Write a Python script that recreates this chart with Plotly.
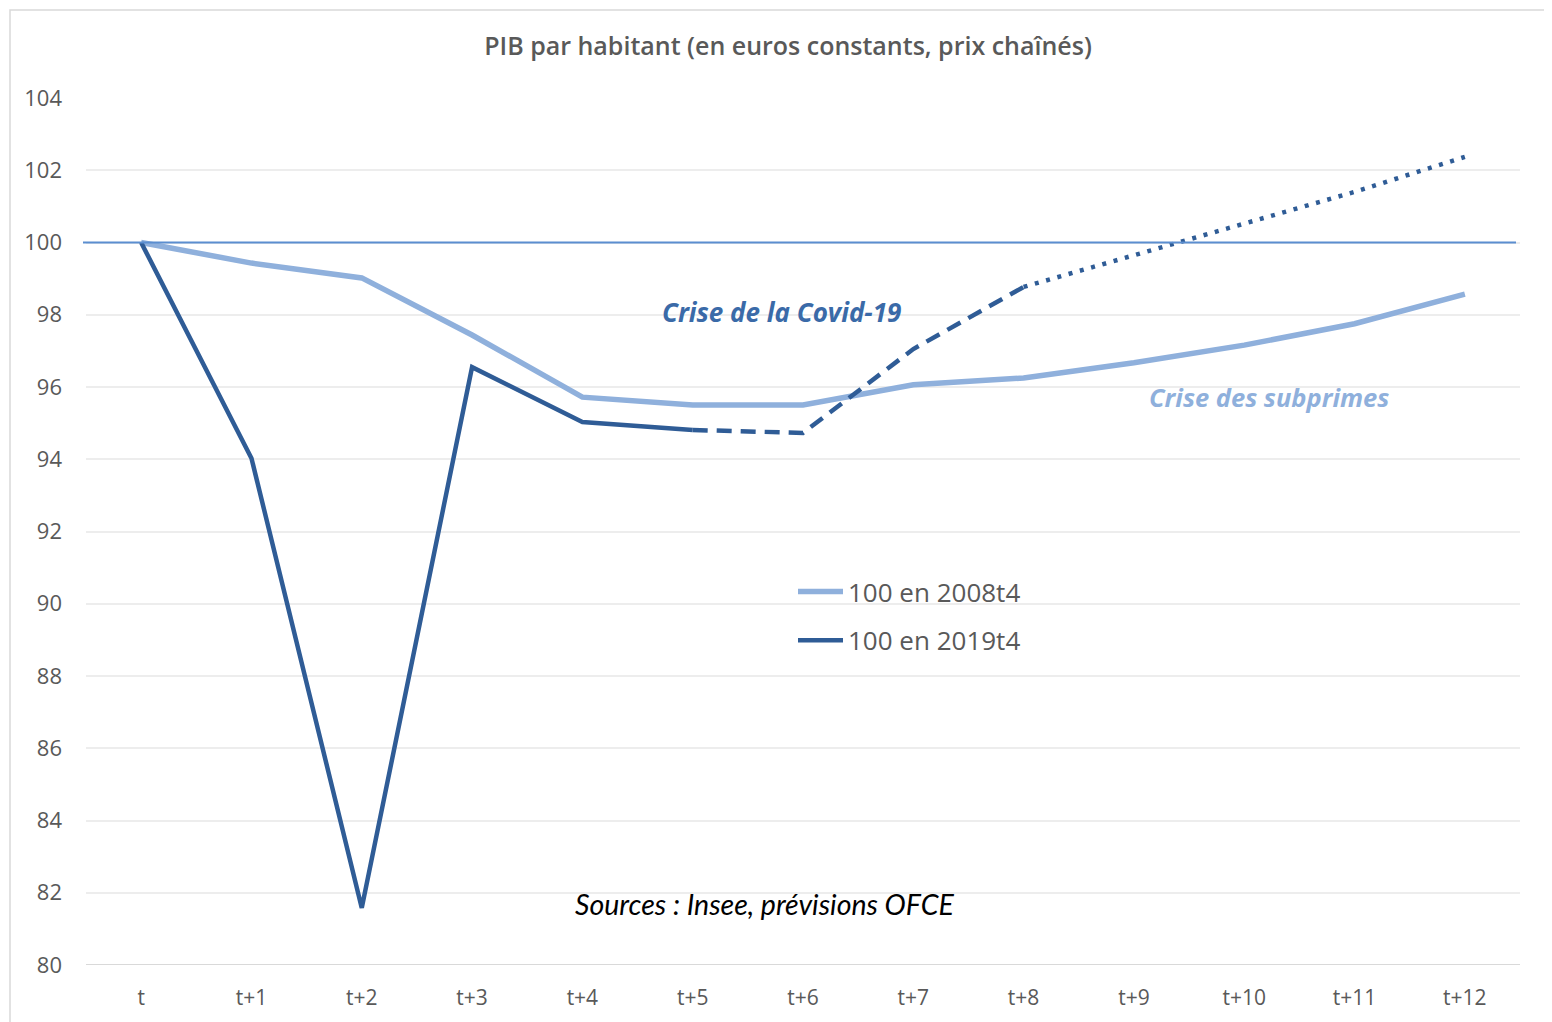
import plotly.graph_objects as go

categories = ["t", "t+1", "t+2", "t+3", "t+4", "t+5", "t+6", "t+7", "t+8", "t+9", "t+10", "t+11", "t+12"]
subprimes = [100, 99.43, 99.02, 97.44, 95.72, 95.50, 95.50, 96.06, 96.25, 96.67, 97.16, 97.75, 98.57]
covid_obs = [100, 94.03, 81.58, 96.55, 95.03, 94.81]          # t .. t+5
covid_short = [94.81, 94.73, 97.05, 98.77]                       # t+5 .. t+8
covid_long = [98.77, 99.65, 100.51, 101.40, 102.37]              # t+8 .. t+12
ref_level = 100

LIGHT = "#8FB0DC"
DARK = "#2F5C96"
GREY = "#595959"
FONT = "Open Sans"

# page offset (body margin of the html page)
OFF = 8
W, H = 1552, 1022
L, T, R, B = 86, 98, 1520, 965   # plot area in page pixels

def px_x(p): return (p - L) / (R - L)
def px_y(p): return (B - p) / (B - T)

fig = go.Figure()
fig.add_trace(go.Scatter(x=categories, y=subprimes, mode="lines", name="100 en 2008t4",
                         line=dict(color=LIGHT, width=5.5), legendgroup="a"))
fig.add_trace(go.Scatter(x=categories[:6], y=covid_obs, mode="lines", name="100 en 2019t4",
                         line=dict(color=DARK, width=4.5), legendgroup="b"))
fig.add_trace(go.Scatter(x=categories[5:9], y=covid_short, mode="lines", showlegend=False,
                         line=dict(color=DARK, width=4.5, dash="15px,9px")))
fig.add_trace(go.Scatter(x=categories[8:], y=covid_long, mode="lines", showlegend=False,
                         line=dict(color=DARK, width=4.5, dash="4px,7.7px")))

fig.add_shape(type="line", xref="paper", yref="y", x0=px_x(83), x1=px_x(1516), y0=ref_level, y1=ref_level,
              line=dict(color="#5B8ED0", width=2))

fig.add_shape(type="rect", xref="paper", yref="paper",
              x0=px_x(10), x1=px_x(1600), y0=px_y(1100), y1=px_y(10),
              line=dict(color="#D9D9D9", width=1.5), layer="below")
fig.add_shape(type="line", xref="paper", yref="y", x0=0, x1=1, y0=80, y1=80,
              line=dict(color="#D9D9D9", width=2), layer="below")

fig.add_annotation(x=px_x(781), xref="paper", xanchor="center", y=98.08, yref="y",
                   text="<b><i>Crise de la Covid-19</i></b>",
                   showarrow=False, font=dict(family=FONT, size=26, color="#3A6AA8"))
fig.add_annotation(x=px_x(1269), xref="paper", xanchor="center", y=95.72, yref="y",
                   text="<b><i>Crise des subprimes</i></b>",
                   showarrow=False, font=dict(family=FONT, size=25.5, color=LIGHT))
fig.add_annotation(x=px_x(765), xref="paper", xanchor="center", y=81.69, yref="y",
                   text="<i>Sources : Insee, prévisions OFCE</i>",
                   showarrow=False, font=dict(family="Lato", size=28.5, color="#000000"))

fig.update_layout(
    width=W, height=H,
    paper_bgcolor="white", plot_bgcolor="white",
    margin=dict(l=L - OFF, r=W - (R - OFF), t=T - OFF, b=H - (B - OFF), autoexpand=False),
    title=dict(text="PIB par habitant (en euros constants, prix chaînés)", x=(788 - OFF) / W, xanchor="center",
               y=1 - (46 - OFF) / H, yanchor="middle",
               font=dict(family=FONT, size=25, color=GREY, weight=600)),
    font=dict(family=FONT, color=GREY),
    showlegend=True,
    legend=dict(x=px_x(793), y=px_y(568), xanchor="left", yanchor="top", bgcolor="rgba(0,0,0,0)",
                font=dict(family=FONT, size=26, color=GREY), itemwidth=45, tracegroupgap=12,
                traceorder="grouped"),
)
fig.update_xaxes(type="category", showgrid=False, showline=False, ticks="", zeroline=False,
                 tickfont=dict(family=FONT, size=21, color=GREY), ticklabelstandoff=18,
                 range=[-0.5, 12.5])
fig.update_yaxes(range=[80, 104], dtick=2, tick0=80, showgrid=True, gridcolor="#EDEDED", gridwidth=1.5,
                 zeroline=False, showline=False, ticks="", tickfont=dict(family=FONT, size=22, color=GREY),
                 ticklabelstandoff=23)

fig.write_html("out.html")
